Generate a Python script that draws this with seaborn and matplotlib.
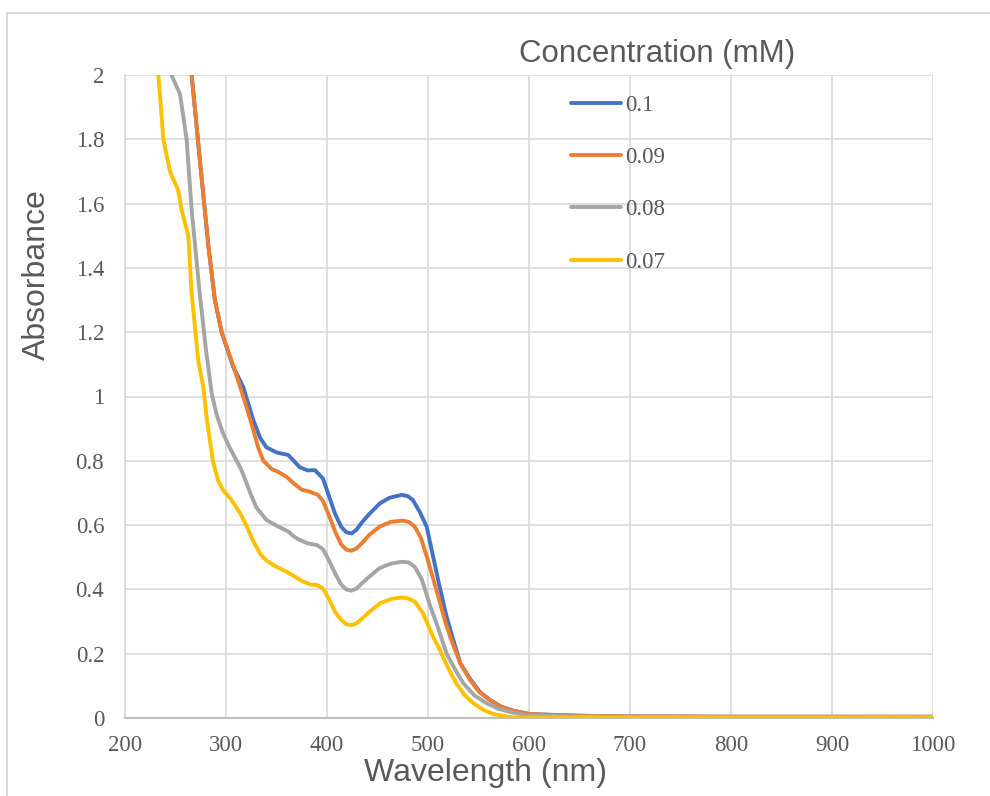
import matplotlib
matplotlib.use("Agg")
import matplotlib.pyplot as plt
import seaborn as sns
import pandas as pd
from matplotlib.lines import Line2D
from matplotlib.patches import Rectangle

# ---- data ----
series_labels = ["0.1", "0.09", "0.08", "0.07"]
series_colors = ["#4472C4", "#ED7D31", "#A5A5A5", "#FFC000"]

wl_01 = [262, 266, 274, 282.5, 289, 295.7, 307, 317, 327, 334, 340, 350, 361.7, 367, 373, 381, 388, 396,
         402, 408, 414, 419, 424.4, 429, 435, 442, 452.5, 462, 474, 480, 485, 492, 498.7, 510, 518, 525, 532,
         541.6, 551, 561, 572, 584, 601, 650, 700, 800, 900, 1000]
ab_01 = [2.12, 2.0, 1.74, 1.47, 1.30, 1.20, 1.093, 1.03, 0.927, 0.87, 0.842, 0.826, 0.818, 0.80, 0.78, 0.77,
         0.771, 0.745, 0.69, 0.635, 0.595, 0.578, 0.574, 0.585, 0.61, 0.635, 0.668, 0.685, 0.694, 0.69,
         0.678, 0.64, 0.595, 0.43, 0.32, 0.243, 0.17, 0.122, 0.082, 0.057, 0.036, 0.023, 0.012, 0.007,
         0.005, 0.004, 0.004, 0.004]

wl_009 = [262, 266, 274, 282.5, 289, 295.7, 305.6, 314, 320, 327, 332, 337, 345, 352, 360, 367, 375, 383, 391,
          396, 402, 408, 414, 419, 424, 429, 435, 442, 452, 463, 475, 481, 487, 493, 499, 510, 517, 523, 532,
          541.6, 551, 561, 572, 584, 601, 650, 700, 800, 900, 1000]
ab_009 = [2.12, 2.0, 1.74, 1.47, 1.30, 1.20, 1.11, 1.03, 0.97, 0.896, 0.84, 0.80, 0.775, 0.765, 0.75, 0.73,
          0.71, 0.704, 0.694, 0.675, 0.63, 0.58, 0.54, 0.524, 0.52, 0.527, 0.545, 0.57, 0.595, 0.61, 0.614,
          0.61, 0.595, 0.56, 0.50, 0.38, 0.30, 0.243, 0.17, 0.118, 0.08, 0.056, 0.035, 0.023, 0.012, 0.007,
          0.005, 0.004, 0.004, 0.004]

wl_008 = [243, 246, 254.5, 261, 266, 270, 274, 280, 285.8, 291, 297, 303, 310.5, 314, 318, 324, 330, 340, 350,
          361.7, 367, 373, 381, 390, 396, 402, 408, 414, 419, 424, 429, 435, 442, 452, 463, 474, 481, 487,
          494, 502, 510, 518.5, 527, 535, 546, 558, 570, 584, 600, 650, 700, 800, 900, 1000]
ab_008 = [2.08, 2.0, 1.94, 1.80, 1.58, 1.45, 1.32, 1.15, 1.01, 0.94, 0.886, 0.845, 0.80, 0.78, 0.75, 0.70,
          0.655, 0.616, 0.598, 0.58, 0.565, 0.554, 0.543, 0.538, 0.525, 0.49, 0.45, 0.415, 0.4, 0.396, 0.402,
          0.42, 0.44, 0.466, 0.48, 0.486, 0.484, 0.47, 0.43, 0.35, 0.28, 0.20, 0.15, 0.108, 0.07, 0.046,
          0.028, 0.017, 0.008, 0.005, 0.004, 0.003, 0.003, 0.003]

wl_007 = [231, 233, 238, 244.5, 252.8, 256, 262.7, 266, 272.6, 277.5, 281, 287, 292, 297, 305, 314, 320, 327,
          334, 340, 350, 360, 368, 376.5, 384, 390, 396, 402, 408, 414, 419, 424, 429, 435, 442, 452.5, 463,
          474, 480, 487, 495, 505, 512, 520, 528, 536, 545, 555, 565, 584, 600, 650, 700, 800, 900, 1000]
ab_007 = [2.1, 2.0, 1.80, 1.70, 1.64, 1.58, 1.50, 1.32, 1.11, 1.03, 0.93, 0.80, 0.74, 0.709, 0.68, 0.637,
          0.60, 0.55, 0.51, 0.49, 0.47, 0.455, 0.44, 0.424, 0.415, 0.414, 0.403, 0.37, 0.33, 0.305, 0.292,
          0.289, 0.294, 0.31, 0.33, 0.357, 0.37, 0.375, 0.372, 0.362, 0.326, 0.253, 0.21, 0.155, 0.108,
          0.072, 0.046, 0.025, 0.012, 0.002, 0.002, 0.002, 0.002, 0.002, 0.002, 0.003]

x_ticks = [200, 300, 400, 500, 600, 700, 800, 900, 1000]
y_ticks = [0, 0.2, 0.4, 0.6, 0.8, 1.0, 1.2, 1.4, 1.6, 1.8, 2.0]
y_tick_labels = ["0", "0.2", "0.4", "0.6", "0.8", "1", "1.2", "1.4", "1.6", "1.8", "2"]

frames = []
for lab, wl, ab in zip(series_labels, [wl_01, wl_009, wl_008, wl_007], [ab_01, ab_009, ab_008, ab_007]):
    frames.append(pd.DataFrame({"wl": wl, "abs": ab, "conc": lab}))
df = pd.concat(frames, ignore_index=True)

# ---- style ----
sns.set_theme(style="white")
plt.rcParams["font.family"] = ["Liberation Sans", "DejaVu Sans"]
TXT = "#595959"
GRID = "#d9d9d9"
LW = 2.8

fig = plt.figure(figsize=(9.9, 7.96), dpi=100)
ax = fig.add_axes([125 / 990, 1 - 718 / 796, (933 - 125) / 990, (718 - 75) / 796])

sns.lineplot(data=df, x="wl", y="abs", hue="conc", hue_order=series_labels,
             palette=series_colors, linewidth=LW, estimator=None, sort=False,
             legend=False, ax=ax, zorder=3)
for ln in ax.get_lines():
    ln.set_solid_joinstyle("round")
    ln.set_solid_capstyle("round")

ax.set_xlim(200, 1000)
ax.set_ylim(0, 2)
ax.set_xticks(x_ticks)
ax.set_yticks(y_ticks)
ax.set_yticklabels(y_tick_labels)
ax.grid(True, color=GRID, linewidth=1.2, zorder=0)
ax.set_axisbelow(True)
for s in ["top", "right"]:
    ax.spines[s].set_visible(False)
ax.spines["left"].set_color(GRID)
ax.spines["left"].set_linewidth(1.2)
ax.spines["bottom"].set_color("#bfbfbf")
ax.spines["bottom"].set_linewidth(1.5)
ax.set_xlabel("")
ax.set_ylabel("")
ax.tick_params(axis="both", length=0, colors=TXT, labelsize=16.5)
ax.tick_params(axis="y", pad=15)
ax.tick_params(axis="x", pad=12)
for lbl in ax.get_xticklabels() + ax.get_yticklabels():
    lbl.set_family(["Liberation Serif", "DejaVu Serif"])

fig.text(37 / 990, 1 - 275 / 796, "Absorbance", rotation=90, ha="center", va="center",
         fontsize=23, color=TXT)
fig.text(485 / 990, 1 - 773 / 796, "Wavelength (nm)", ha="center", va="center",
         fontsize=23, color=TXT)
fig.text(657 / 990, 1 - 54 / 796, "Concentration (mM)", ha="center", va="center",
         fontsize=22.5, color=TXT)

handles = [Line2D([0], [0], color=c, lw=LW, solid_capstyle="round") for c in series_colors]
leg = ax.legend(handles, series_labels, loc="upper left",
                bbox_to_anchor=(571 / 990, 1 - 95 / 796), bbox_transform=fig.transFigure,
                frameon=False, borderpad=0, borderaxespad=0, handlelength=2.17,
                handletextpad=0.2, labelspacing=1.36,
                prop={"family": ["Liberation Serif", "DejaVu Serif"], "size": 16.5})
for t in leg.get_texts():
    t.set_color(TXT)

fig.patches.append(Rectangle((7 / 990, -0.1), 1.2, 1 - 13 / 796 + 0.1, transform=fig.transFigure,
                             fill=False, edgecolor=GRID, linewidth=1.5))

fig.savefig("out.png", dpi=100)
